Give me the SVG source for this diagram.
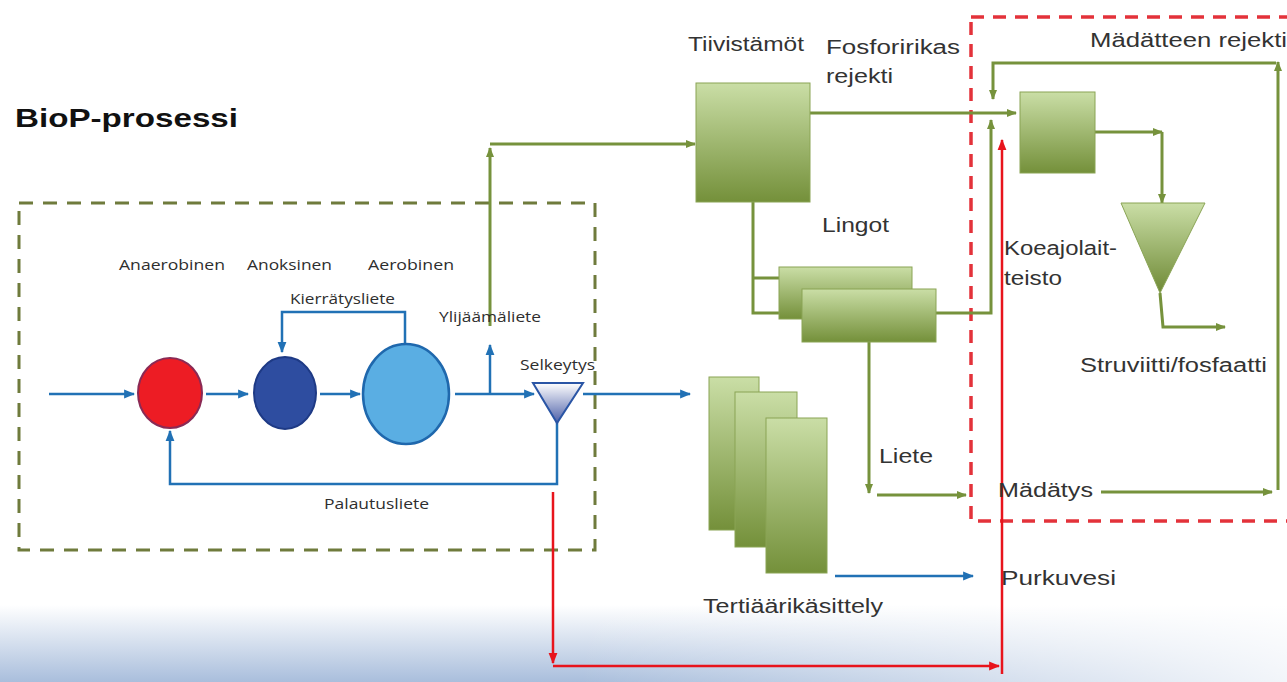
<svg xmlns="http://www.w3.org/2000/svg" width="1287" height="682" viewBox="0 0 1287 682">
<defs>
<linearGradient id="gbox" x1="0" y1="0" x2="0" y2="1"><stop offset="0" stop-color="#cadea6"/><stop offset="1" stop-color="#74903a"/></linearGradient>
<linearGradient id="gtri" x1="0" y1="0" x2="0" y2="1"><stop offset="0" stop-color="#cadea6"/><stop offset="1" stop-color="#6f8a36"/></linearGradient>
<linearGradient id="gsel" x1="0" y1="0" x2="0" y2="1"><stop offset="0" stop-color="#ffffff"/><stop offset="1" stop-color="#4b5fa8"/></linearGradient>
<linearGradient id="gbg" x1="0" y1="0" x2="0" y2="1"><stop offset="0" stop-color="#ffffff"/><stop offset="1" stop-color="#a9bedc"/></linearGradient>
<linearGradient id="gfade" x1="0" y1="0" x2="1" y2="0"><stop offset="0.45" stop-color="#ffffff" stop-opacity="0"/><stop offset="1" stop-color="#ffffff" stop-opacity="0.85"/></linearGradient>
<marker id="ag" viewBox="0 0 10 10" refX="9" refY="5" markerWidth="10" markerHeight="10" markerUnits="userSpaceOnUse" orient="auto"><path d="M0,1 L10,5 L0,9 z" fill="#76923c"/></marker>
<marker id="ab" viewBox="0 0 10 10" refX="9" refY="5" markerWidth="11" markerHeight="11" markerUnits="userSpaceOnUse" orient="auto"><path d="M0,1 L10,5 L0,9 z" fill="#2171b5"/></marker>
<marker id="ar" viewBox="0 0 10 10" refX="9" refY="5" markerWidth="11" markerHeight="11" markerUnits="userSpaceOnUse" orient="auto"><path d="M0,1 L10,5 L0,9 z" fill="#e8141c"/></marker>
</defs>
<style>
.lg{fill:none;stroke:#76923c;stroke-width:3;marker-end:url(#ag)}
.lgn{fill:none;stroke:#76923c;stroke-width:3}
.lb{fill:none;stroke:#2171b5;stroke-width:2.5;marker-end:url(#ab)}
.lr{fill:none;stroke:#e8141c;stroke-width:2.5;marker-end:url(#ar)}
.box{fill:url(#gbox);stroke:#8aa455;stroke-width:1}
.ts{font-family:"Open Sans","Liberation Sans",Arial,sans-serif;font-size:15px;fill:#2e2e2e}
.tl{font-family:"Liberation Sans",Arial,sans-serif;font-size:20px;fill:#333333}
</style>
<rect width="1287" height="682" fill="#ffffff"/>
<rect x="0" y="605" width="1287" height="77" fill="url(#gbg)"/>
<rect x="0" y="605" width="1287" height="77" fill="url(#gfade)"/>

<text x="15" y="127" font-family="Liberation Sans,Arial,sans-serif" font-weight="bold" font-size="25" fill="#111" textLength="223" lengthAdjust="spacingAndGlyphs">BioP-prosessi</text>

<g id="biop-frame"><rect x="19" y="203" width="576" height="347" fill="none" stroke="#6f7b3c" stroke-width="3" stroke-dasharray="14 10"/></g>
<g id="koe-frame"><rect x="971" y="17" width="330" height="504" fill="none" stroke="#e3323a" stroke-width="3.5" stroke-dasharray="13 9"/></g>

<g id="connectors">
<line class="lb" x1="49" y1="394" x2="134" y2="394"/>
<line class="lb" x1="206" y1="394" x2="248" y2="394"/>
<line class="lb" x1="320" y1="394" x2="360" y2="394"/>
<line class="lb" x1="455" y1="394" x2="534" y2="394"/>
<line class="lb" x1="490" y1="394" x2="490" y2="345"/>
<path class="lb" d="M405 344 V312 H282 V352"/>
<path class="lb" d="M557 420 V484 H170 V431"/>
<line class="lb" x1="583" y1="394" x2="690" y2="394"/>
<line class="lb" x1="835" y1="576" x2="973" y2="576"/>

<line class="lg" x1="490" y1="326" x2="490" y2="148"/>
<line class="lg" x1="490" y1="144" x2="695" y2="144"/>
<line class="lg" x1="810" y1="113" x2="1016" y2="113"/>
<path class="lgn" d="M753 202 V313 H802"/>
<line class="lg" x1="753" y1="278" x2="798" y2="278"/>
<path class="lg" d="M936 313 H991 V120"/>
<line class="lg" x1="1278" y1="490" x2="1278" y2="62"/>
<path class="lg" d="M1276 63 H993 V99"/>
<path class="lg" d="M1095 132 H1162"/>
<path class="lg" d="M1162 132 V203"/>
<path class="lg" d="M1160 293 L1163 327 H1225"/>
<path class="lg" d="M869 342 V493"/>
<line class="lg" x1="877" y1="495" x2="966" y2="495"/>
<line class="lg" x1="1101" y1="492" x2="1272" y2="492"/>

<line class="lr" x1="553" y1="492" x2="553" y2="663"/>
<line class="lr" x1="553" y1="666" x2="999" y2="666"/>
<line class="lr" x1="1002" y1="674" x2="1002" y2="140"/>
</g>

<g id="anaerobinen">
<ellipse cx="170" cy="393" rx="32" ry="35" fill="#ed1c24" stroke="#8a2a55" stroke-width="2"/>
<text class="ts" x="119" y="270" textLength="106" lengthAdjust="spacingAndGlyphs">Anaerobinen</text>
</g>
<g id="anoksinen">
<ellipse cx="285" cy="393" rx="31" ry="36" fill="#2e4da0" stroke="#1e3a85" stroke-width="2"/>
<text class="ts" x="247" y="270" textLength="85" lengthAdjust="spacingAndGlyphs">Anoksinen</text>
</g>
<g id="aerobinen">
<ellipse cx="406" cy="394" rx="43" ry="50" fill="#5aaee3" stroke="#1f68ad" stroke-width="2.5"/>
<text class="ts" x="368" y="270" textLength="86" lengthAdjust="spacingAndGlyphs">Aerobinen</text>
</g>
<g id="selkeytys">
<polygon points="533,383 583,383 557,423" fill="url(#gsel)" stroke="#2a55a5" stroke-width="2"/>
<text class="ts" x="520" y="370" textLength="75" lengthAdjust="spacingAndGlyphs">Selkeytys</text>
</g>
<text class="ts" x="290" y="304" textLength="105" lengthAdjust="spacingAndGlyphs">Kierrätysliete</text>
<text class="ts" x="439" y="322" textLength="102" lengthAdjust="spacingAndGlyphs">Ylijäämäliete</text>
<text class="ts" x="324" y="509" textLength="105" lengthAdjust="spacingAndGlyphs">Palautusliete</text>

<g id="tiivistamot">
<rect class="box" x="696" y="83" width="114" height="119"/>
<text class="tl" x="688" y="51" textLength="116" lengthAdjust="spacingAndGlyphs">Tiivistämöt</text>
</g>
<text class="tl" x="826" y="54" textLength="134" lengthAdjust="spacingAndGlyphs">Fosforirikas</text>
<text class="tl" x="826" y="83" textLength="67" lengthAdjust="spacingAndGlyphs">rejekti</text>

<g id="lingot">
<rect class="box" x="779" y="267" width="133" height="52"/>
<rect class="box" x="802" y="289" width="134" height="53"/>
<text class="tl" x="822" y="232" textLength="67" lengthAdjust="spacingAndGlyphs">Lingot</text>
</g>
<text class="tl" x="879" y="463" textLength="54" lengthAdjust="spacingAndGlyphs">Liete</text>

<g id="tertiaari">
<rect class="box" x="709" y="377" width="50" height="153"/>
<rect class="box" x="735" y="392" width="62" height="155"/>
<rect class="box" x="766" y="418" width="61" height="155"/>
<text class="tl" x="703" y="613" textLength="180" lengthAdjust="spacingAndGlyphs">Tertiäärikäsittely</text>
</g>
<text class="tl" x="1001" y="585" textLength="115" lengthAdjust="spacingAndGlyphs">Purkuvesi</text>

<g id="koeajolaitteisto">
<rect class="box" x="1020" y="92" width="75" height="81"/>
<polygon points="1121,203 1205,203 1160,293" fill="url(#gtri)" stroke="#8aa455" stroke-width="1"/>
<text class="tl" x="1004" y="255" textLength="113" lengthAdjust="spacingAndGlyphs">Koeajolait-</text>
<text class="tl" x="1004" y="285" textLength="58" lengthAdjust="spacingAndGlyphs">teisto</text>
</g>
<text class="tl" x="1090" y="47" textLength="197" lengthAdjust="spacingAndGlyphs">Mädätteen rejekti</text>
<text class="tl" x="1080" y="372" textLength="187" lengthAdjust="spacingAndGlyphs">Struviitti/fosfaatti</text>
<g id="madatys"><text class="tl" x="998" y="497" textLength="95" lengthAdjust="spacingAndGlyphs">Mädätys</text></g>
</svg>
